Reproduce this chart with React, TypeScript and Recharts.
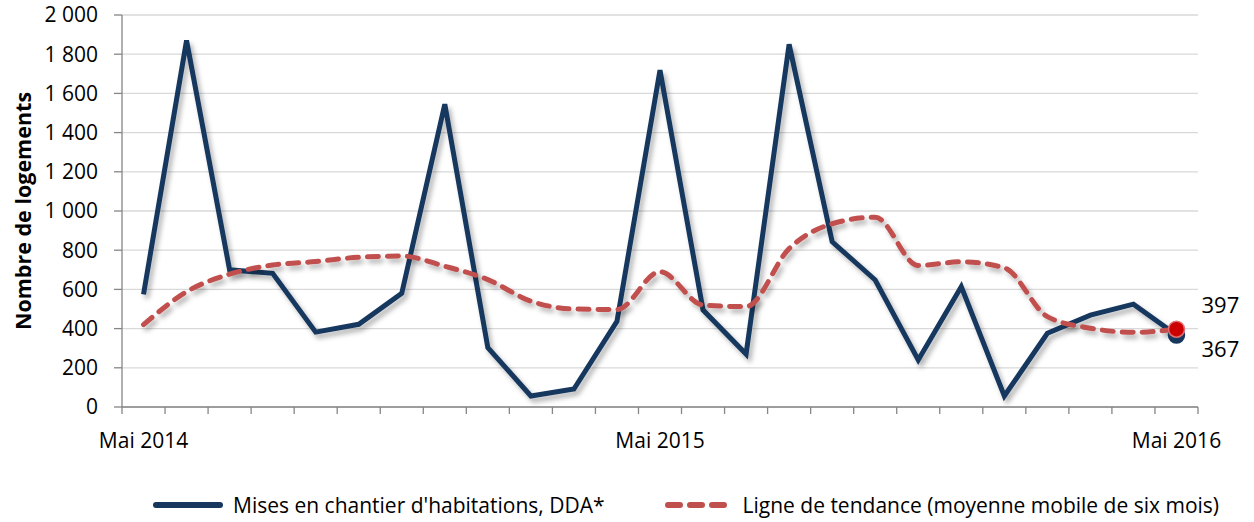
import React from 'react';
import { LineChart, Line, XAxis, YAxis, CartesianGrid, Legend } from 'recharts';

const months = [
  'Mai 2014', 'Juin 2014', 'Juil. 2014', 'Août 2014', 'Sept. 2014', 'Oct. 2014', 'Nov. 2014', 'Déc. 2014',
  'Janv. 2015', 'Févr. 2015', 'Mars 2015', 'Avr. 2015', 'Mai 2015', 'Juin 2015', 'Juil. 2015', 'Août 2015',
  'Sept. 2015', 'Oct. 2015', 'Nov. 2015', 'Déc. 2015', 'Janv. 2016', 'Févr. 2016', 'Mars 2016', 'Avr. 2016', 'Mai 2016',
];
const starts = [575, 1870, 700, 682, 382, 422, 580, 1545, 303, 56, 92, 437, 1719, 495, 270, 1850, 843, 648, 240, 614, 56, 376, 469, 525, 367];
const trend = [420, 588, 678, 724, 742, 764, 770, 718, 650, 540, 500, 497, 690, 520, 512, 808, 935, 968, 722, 741, 710, 461, 402, 381, 397];
const yTicks = [0, 200, 400, 600, 800, 1000, 1200, 1400, 1600, 1800, 2000];
const seriesNames = ["Mises en chantier d'habitations, DDA*", 'Ligne de tendance (moyenne mobile de six mois)'];
const yTitle = 'Nombre de logements';

const data = months.map((m, i) => ({ i, month: m, starts: starts[i], trend: trend[i] }));
const last = months.length - 1;
const boundaryTicks = months.map((_, i) => i - 0.5).concat([last + 0.5]);
const labelTicks = months.map((m, i) => (m.startsWith('Mai') ? i : -1)).filter((i) => i >= 0);

const BLUE = '#17375E';
const RED = '#C0504D';
const FONT = '"Open Sans", sans-serif';

const fmt = (v: number) => String(v).replace(/\B(?=(\d{3})+(?!\d))/g, '\u00a0');

const LegendContent = () => (
  <div style={{ display: 'flex', alignItems: 'center', height: 30, paddingLeft: 153, fontFamily: FONT, fontSize: 21, color: '#000', whiteSpace: 'nowrap' }}>
    <svg width={70} height={10} style={{ flexShrink: 0 }}>
      <line x1={3} y1={5} x2={67} y2={5} stroke={BLUE} strokeWidth={6} strokeLinecap="round" />
    </svg>
    <span style={{ marginLeft: 10, flexShrink: 0 }}>{seriesNames[0]}</span>
    <svg width={63} height={10} style={{ marginLeft: 60, flexShrink: 0 }}>
      <line x1={3} y1={5} x2={60} y2={5} stroke={RED} strokeWidth={6} strokeLinecap="round" strokeDasharray="12 10" />
    </svg>
    <span style={{ marginLeft: 15, flexShrink: 0 }}>{seriesNames[1]}</span>
  </div>
);

const YTitle = (props: any) => {
  const vb = props.viewBox || { x: 0, y: 0, width: 0, height: 0 };
  const cx = vb.x + 22;
  const cy = vb.y + vb.height / 2;
  return (
    <text x={cx} y={cy} transform={`rotate(-90, ${cx}, ${cy})`} textAnchor="middle" dominantBaseline="central"
      fontFamily={FONT} fontSize={21.5} fontWeight={700} fill="#000">{yTitle}</text>
  );
};

const endDot = (color: string, stroke: string, r: number) => (props: any) => {
  const { cx, cy, index } = props;
  if (index !== last) return <g key={`d${index}`} />;
  return <circle key={`d${index}`} cx={cx} cy={cy} r={r} fill={color} stroke={stroke} strokeWidth={1.5} />;
};

const endLabel = (dy: number) => (props: any) => {
  const { x, y, index, value } = props;
  if (index !== last) return <g key={`l${index}`} />;
  return (
    <text key={`l${index}`} x={x + 25} y={y + dy} fontFamily={FONT} fontSize={22} fill="#000">{value}</text>
  );
};

export default function App() {
  return (
    <div style={{ position: 'absolute', left: 0, top: 0, width: 1254, height: 522, background: '#fff' }}>
      <style>{`.recharts-line-curve { filter: url(#sh); }`}</style>
      <LineChart width={1254} height={522} data={data} margin={{ top: 15, right: 56, left: 0, bottom: 37 }}>
        <defs>
          <filter id="sh" filterUnits="userSpaceOnUse" x={0} y={0} width={1254} height={522}>
            <feDropShadow dx={3} dy={4} stdDeviation={2.5} floodColor="#000" floodOpacity={0.3} />
          </filter>
        </defs>
        <CartesianGrid vertical={false} stroke="#D9D9D9" strokeWidth={1.3} />
        <XAxis xAxisId="a" dataKey="i" type="number" domain={[-0.5, last + 0.5]} ticks={boundaryTicks}
          tickFormatter={() => ''} height={8} tickSize={7} stroke="#868686" strokeWidth={1.3} interval={0} />
        <XAxis xAxisId="b" dataKey="i" type="number" domain={[-0.5, last + 0.5]} ticks={labelTicks}
          tickFormatter={(v: number) => months[v]} height={40} axisLine={false} tickLine={false} tickSize={0}
          tickMargin={18} interval={0} tick={{ fontFamily: FONT, fontSize: 21, fill: '#000' }} />
        <YAxis domain={[0, 2000]} ticks={yTicks} width={122} tickFormatter={fmt} tickSize={8} tickMargin={16}
          stroke="#868686" strokeWidth={1.3} interval={0}
          tick={{ fontFamily: FONT, fontSize: 21, fill: '#000' }} label={<YTitle />} />
        <Legend verticalAlign="bottom" content={<LegendContent />} wrapperStyle={{ left: 0, top: 490, width: 1254, height: 30 }} />
        <Line xAxisId="a" dataKey="starts" name={seriesNames[0]} stroke={BLUE} strokeWidth={5} type="linear"
          isAnimationActive={false} dot={endDot(BLUE, BLUE, 8)} activeDot={false} label={endLabel(22)} />
        <Line xAxisId="b" dataKey="trend" name={seriesNames[1]} stroke={RED} strokeWidth={5} type="monotone"
          strokeDasharray="11 9" strokeLinecap="round" isAnimationActive={false} dot={endDot('#CC0000', '#E07070', 8)}
          activeDot={false} label={endLabel(-16)} />
      </LineChart>
    </div>
  );
}
